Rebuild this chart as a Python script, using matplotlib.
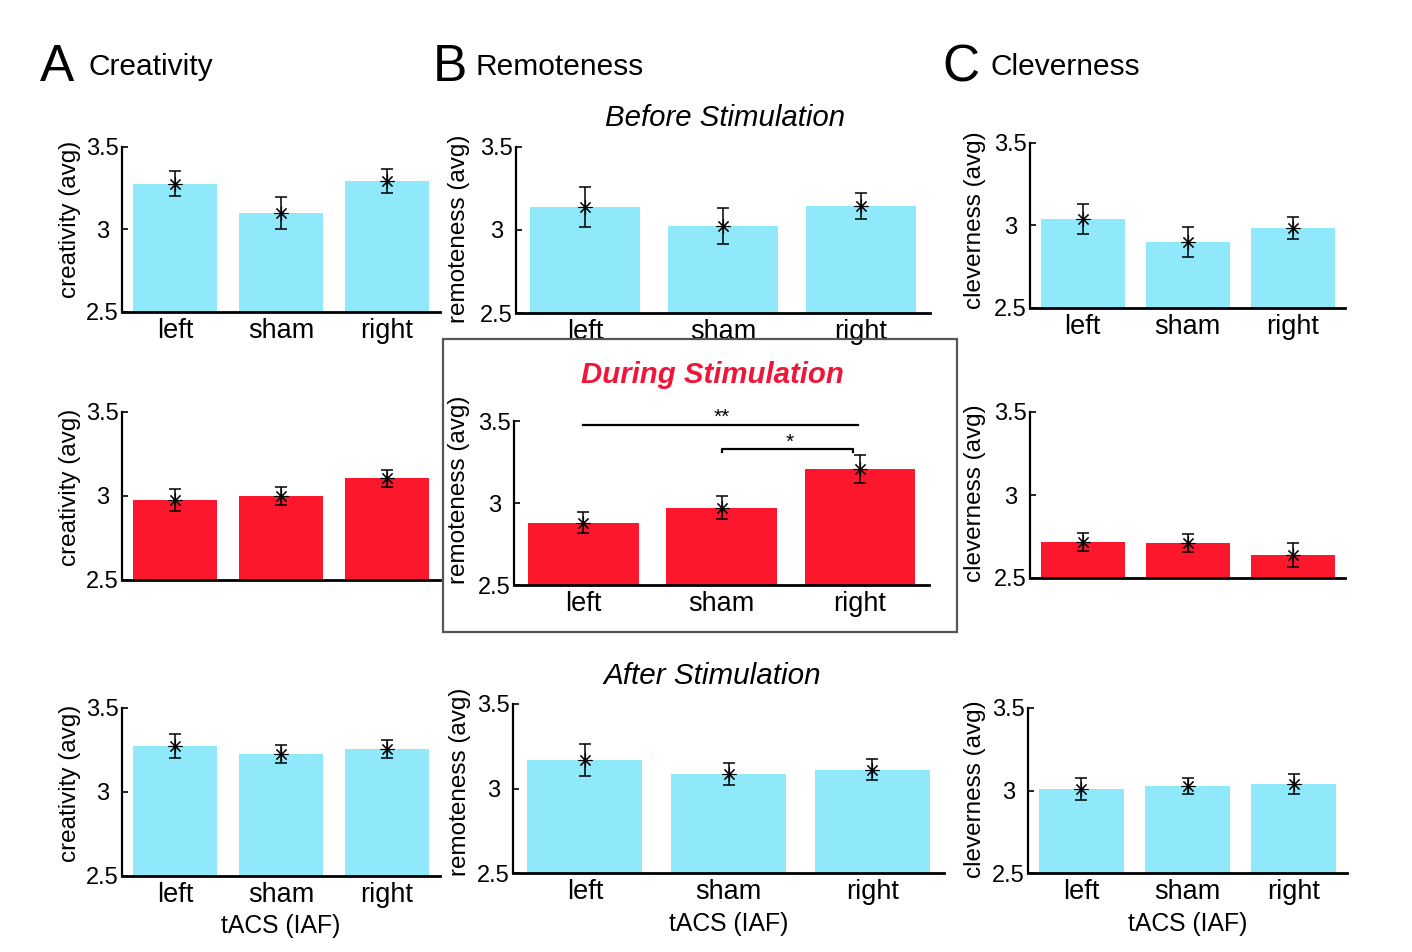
import matplotlib
matplotlib.use("Agg")
import matplotlib.pyplot as plt
import matplotlib.transforms as mtransforms
from matplotlib.patches import Rectangle

plt.rcParams['font.family'] = ['Liberation Sans', 'DejaVu Sans']

# ---------------- data ----------------
conditions = ["left", "sham", "right"]

creativity_before = [3.276, 3.100, 3.294]
creativity_before_err = [0.076, 0.094, 0.073]
creativity_during = [2.976, 2.998, 3.105]
creativity_during_err = [0.063, 0.054, 0.050]
creativity_after = [3.274, 3.226, 3.256]
creativity_after_err = [0.074, 0.054, 0.054]

remoteness_before = [3.139, 3.024, 3.145]
remoteness_before_err = [0.120, 0.110, 0.078]
remoteness_during = [2.880, 2.970, 3.210]
remoteness_during_err = [0.065, 0.070, 0.085]
remoteness_after = [3.169, 3.087, 3.110]
remoteness_after_err = [0.094, 0.065, 0.062]

cleverness_before = [3.040, 2.900, 2.985]
cleverness_before_err = [0.090, 0.090, 0.064]
cleverness_during = [2.717, 2.711, 2.640]
cleverness_during_err = [0.052, 0.055, 0.073]
cleverness_after = [3.009, 3.027, 3.040]
cleverness_after_err = [0.064, 0.050, 0.060]

yticks = [2.5, 3, 3.5]
ytick_labels = ["2.5", "3", "3.5"]

# ---------------- style ----------------
W, H = 1412, 952
CYAN = "#8FE9FB"
RED = "#FC172D"
TITLE_RED = "#F0163A"

fig = plt.figure(figsize=(W / 100, H / 100), dpi=100)


def add_ax(l, t, r, b):
    return fig.add_axes([l / W, 1 - b / H, (r - l) / W, (b - t) / H])


def panel(ax, vals, errs, color, ylabel, label_x, label_y, show_xticks, xlabel=None):
    x = [1, 2, 3]
    ax.bar(x, vals, width=0.8, color=color, zorder=1)
    ax.errorbar(x, vals, yerr=errs, fmt='none', ecolor='black',
                elinewidth=1.1, capsize=4, capthick=1.1, zorder=3)
    ax.plot(x, vals, linestyle='none', marker=(8, 2, 0), markersize=10,
            markeredgewidth=0.8, color='black', zorder=4)
    ax.set_xlim(0.5, 3.5)
    ax.set_ylim(2.5, 3.5)
    ax.set_yticks(yticks)
    ax.set_yticklabels(ytick_labels, fontsize=17, ha='center')
    ax.tick_params(axis='y', direction='in', length=4, width=1.2, pad=14)
    ax.set_xticks(x)
    if show_xticks:
        ax.set_xticklabels(conditions, fontsize=19.5)
    else:
        ax.set_xticklabels([])
    ax.tick_params(axis='x', length=0, pad=4)
    for s in ['top', 'right']:
        ax.spines[s].set_visible(False)
    ax.spines['left'].set_linewidth(1.6)
    ax.spines['bottom'].set_linewidth(2.0)
    ax.spines['bottom'].set_zorder(5)
    ax.set_ylabel(ylabel, fontsize=17.5, va='center')
    tr = mtransforms.blended_transform_factory(fig.transFigure, ax.transAxes)
    ax.yaxis.set_label_coords(label_x / W, label_y, transform=tr)
    if xlabel:
        ax.set_xlabel(xlabel, fontsize=17.8, labelpad=5)


# Column A
axA1 = add_ax(122, 147, 440, 312)
panel(axA1, creativity_before, creativity_before_err, CYAN, "creativity (avg)", 70, 0.56, True)
axA2 = add_ax(122, 412, 440, 580)
panel(axA2, creativity_during, creativity_during_err, RED, "creativity (avg)", 70, 0.55, False)
axA3 = add_ax(122, 708, 440, 876)
panel(axA3, creativity_after, creativity_after_err, CYAN, "creativity (avg)", 70, 0.55, True,
      "tACS (IAF)")

# Column B
axB1 = add_ax(516, 147, 930, 313)
panel(axB1, remoteness_before, remoteness_before_err, CYAN, "remoteness (avg)", 459, 0.51, True)
axB2 = add_ax(514, 421, 929, 585)
panel(axB2, remoteness_during, remoteness_during_err, RED, "remoteness (avg)", 459, 0.58, True)
axB3 = add_ax(513, 704, 944, 873)
panel(axB3, remoteness_after, remoteness_after_err, CYAN, "remoteness (avg)", 460, 0.54, True,
      "tACS (IAF)")

# Column C
axC1 = add_ax(1030, 143, 1345, 308)
panel(axC1, cleverness_before, cleverness_before_err, CYAN, "cleverness (avg)", 975, 0.53, True)
axC2 = add_ax(1030, 412, 1345, 578)
panel(axC2, cleverness_during, cleverness_during_err, RED, "cleverness (avg)", 975, 0.51, False)
axC3 = add_ax(1028, 708, 1347, 873)
panel(axC3, cleverness_after, cleverness_after_err, CYAN, "cleverness (avg)", 975, 0.51, True,
      "tACS (IAF)")

# significance brackets on the "during" remoteness panel
axB2.plot([1, 2.99], [3.475, 3.475], color='black', lw=1.6, clip_on=False, zorder=6)
axB2.text(2.0, 3.525, "**", ha='center', va='center', fontsize=15, clip_on=False)
axB2.plot([2, 2, 2.95, 2.95], [3.31, 3.33, 3.33, 3.31], color='black', lw=1.6,
          clip_on=False, zorder=6)
axB2.text(2.49, 3.37, "*", ha='center', va='center', fontsize=15, clip_on=False)

# box around the during-stimulation remoteness panel
fig.patches.append(Rectangle((443 / W, 1 - 632 / H), (957 - 443) / W, (632 - 339) / H,
                             transform=fig.transFigure, fill=False,
                             edgecolor='#555555', linewidth=1.6))

# panel letters and titles
def fy(py):
    return 1 - py / H

fig.text(40 / W, fy(81), "A", fontsize=37, va='baseline', ha='left')
fig.text(88 / W, fy(75), "Creativity", fontsize=21.5, va='baseline', ha='left')
fig.text(433 / W, fy(81), "B", fontsize=37, va='baseline', ha='left')
fig.text(475 / W, fy(75), "Remoteness", fontsize=21.5, va='baseline', ha='left')
fig.text(942 / W, fy(81), "C", fontsize=37, va='baseline', ha='left')
fig.text(990 / W, fy(75), "Cleverness", fontsize=21.5, va='baseline', ha='left')

fig.text(725 / W, fy(118), "Before Stimulation", fontsize=21.2, style='italic',
         ha='center', va='center')
fig.text(712 / W, fy(676), "After Stimulation", fontsize=21.3, style='italic',
         ha='center', va='center')
fig.text(712 / W, fy(375), "During Stimulation", fontsize=21.2, style='italic',
         fontweight='bold', color=TITLE_RED, ha='center', va='center')

fig.savefig("out.png", dpi=100)
